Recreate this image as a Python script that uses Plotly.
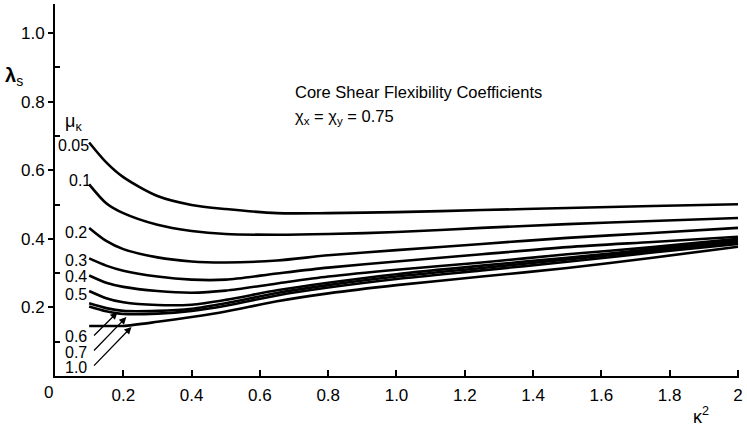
import plotly.graph_objects as go

# kappa^2 sample positions
k2 = [0.10, 0.15, 0.20, 0.30, 0.40, 0.50, 0.65, 0.80, 1.00, 1.25, 1.50, 1.75, 2.00]

# lambda_s values for each mu_kappa curve
mu_labels = ["0.05", "0.1", "0.2", "0.3", "0.4", "0.5", "0.6", "0.7", "1.0"]
lam_005 = [0.681, 0.623, 0.580, 0.525, 0.499, 0.487, 0.475, 0.475, 0.478, 0.484, 0.490, 0.496, 0.501]
lam_01 = [0.559, 0.504, 0.475, 0.441, 0.423, 0.414, 0.412, 0.414, 0.420, 0.432, 0.443, 0.452, 0.461]
lam_02 = [0.432, 0.394, 0.370, 0.346, 0.334, 0.331, 0.337, 0.352, 0.367, 0.385, 0.403, 0.417, 0.432]
lam_03 = [0.343, 0.322, 0.307, 0.290, 0.281, 0.281, 0.299, 0.316, 0.334, 0.355, 0.376, 0.391, 0.406]
lam_04 = [0.293, 0.272, 0.260, 0.248, 0.243, 0.249, 0.270, 0.290, 0.310, 0.331, 0.355, 0.376, 0.400]
lam_05 = [0.248, 0.227, 0.215, 0.207, 0.208, 0.222, 0.250, 0.272, 0.297, 0.322, 0.345, 0.370, 0.394]
lam_06 = [0.212, 0.198, 0.190, 0.190, 0.196, 0.212, 0.242, 0.265, 0.290, 0.315, 0.340, 0.365, 0.389]
lam_07 = [0.203, 0.189, 0.181, 0.182, 0.190, 0.205, 0.235, 0.258, 0.283, 0.308, 0.333, 0.360, 0.385]
lam_10 = [0.146, 0.146, 0.146, 0.158, 0.172, 0.188, 0.218, 0.241, 0.265, 0.290, 0.315, 0.345, 0.377]
series = [lam_005, lam_01, lam_02, lam_03, lam_04, lam_05, lam_06, lam_07, lam_10]

# curve label positions (kappa^2, lambda) at the left of the curves
label_x = [0.003, 0.035, 0.023, 0.023, 0.023, 0.023, 0.023, 0.023, 0.023]
label_y = [0.673, 0.571, 0.420, 0.338, 0.289, 0.239, 0.114, 0.070, 0.026]

# leader arrows for the bunched curves (tail -> tip)
arrow_tail_x = [0.110, 0.110, 0.110]
arrow_tail_y = [0.114, 0.070, 0.026]
arrow_tip_x = [0.183, 0.209, 0.224]
arrow_tip_y = [0.186, 0.172, 0.143]

x_ticks = [0.2, 0.4, 0.6, 0.8, 1.0, 1.2, 1.4, 1.6, 1.8, 2.0]
x_ticktext = ["0.2", "0.4", "0.6", "0.8", "1.0", "1.2", "1.4", "1.6", "1.8", "2"]
y_ticks = [0.2, 0.4, 0.6, 0.8, 1.0]
y_ticktext = ["0.2", "0.4", "0.6", "0.8", "1.0"]

FONT = "Liberation Sans"

fig = go.Figure()
for name, ys in zip(mu_labels, series):
    fig.add_trace(go.Scatter(
        x=k2, y=ys, mode="lines", name=name,
        line=dict(color="black", width=2.6, shape="spline", smoothing=0.8),
        showlegend=False, hoverinfo="skip",
    ))

annotations = []
for t, lx, ly in zip(mu_labels, label_x, label_y):
    annotations.append(dict(x=lx, y=ly, xref="x", yref="y", text=t, showarrow=False,
                            xanchor="left", yanchor="middle",
                            font=dict(family=FONT, size=16, color="black")))

for tx, ty, hx, hy in zip(arrow_tail_x, arrow_tail_y, arrow_tip_x, arrow_tip_y):
    annotations.append(dict(x=hx, y=hy, ax=tx, ay=ty, xref="x", yref="y", axref="x", ayref="y",
                            text="", showarrow=True, arrowhead=2, arrowsize=1.1,
                            arrowwidth=1.3, arrowcolor="black", standoff=0))

annotations += [
    dict(x=0.023, y=0.738, xref="x", yref="y", text="μ<sub>κ</sub>", showarrow=False,
         xanchor="left", yanchor="middle", font=dict(family=FONT, size=18, color="black")),
    dict(x=0.698, y=0.828, xref="x", yref="y", text="Core Shear Flexibility Coefficients",
         showarrow=False, xanchor="left", yanchor="middle",
         font=dict(family=FONT, size=16.5, color="black")),
    dict(x=0.698, y=0.755, xref="x", yref="y", text="χ<sub>x</sub> = χ<sub>y</sub> = 0.75",
         showarrow=False, xanchor="left", yanchor="middle",
         font=dict(family=FONT, size=16.5, color="black")),
    dict(x=-0.0596, y=0.806, xref="paper", yref="paper", text="<b>λ</b><sub>s</sub>",
         showarrow=False, xanchor="center", yanchor="middle",
         font=dict(family=FONT, size=20, color="black")),
    dict(x=0.945, y=-0.1075, xref="paper", yref="paper", text="κ<sup>2</sup>", showarrow=False,
         xanchor="center", yanchor="middle", font=dict(family=FONT, size=18, color="black")),
    dict(x=0.0, y=0.0, xref="x", yref="y", text="0", showarrow=False, xshift=-7, yshift=-16,
         xanchor="center", yanchor="middle", font=dict(family=FONT, size=17, color="black")),
]

fig.update_layout(
    width=747, height=428,
    margin=dict(l=55, r=4, t=4, b=52),
    paper_bgcolor="white", plot_bgcolor="white",
    annotations=annotations,
    xaxis=dict(range=[0, 2.003], showgrid=False, zeroline=False,
               showline=True, linecolor="black", linewidth=2,
               tickmode="array", tickvals=x_ticks, ticktext=x_ticktext,
               ticks="inside", ticklen=6, tickwidth=1.5, tickcolor="black",
               ticklabelstandoff=3,
               tickfont=dict(family=FONT, size=17, color="black")),
    yaxis=dict(range=[0, 1.085], showgrid=False, zeroline=False,
               showline=True, linecolor="black", linewidth=2,
               tickmode="array", tickvals=y_ticks, ticktext=y_ticktext,
               ticks="outside", ticklen=5, tickwidth=1.5, tickcolor="black",
               ticklabelstandoff=0,
               minor=dict(tickvals=[0.1, 0.3, 0.5, 0.7, 0.9], ticks="inside",
                          ticklen=5, tickwidth=1.5, tickcolor="black"),
               tickfont=dict(family=FONT, size=17, color="black")),
)

fig.write_html("out.html")
